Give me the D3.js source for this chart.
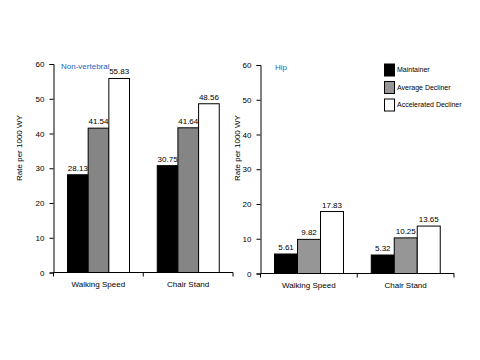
<!DOCTYPE html>
<html><head><meta charset="utf-8">
<script src="https://cdn.jsdelivr.net/npm/d3@7/dist/d3.min.js"></script>
<style>body{margin:0;background:#fff}svg{display:block}text{font-family:"Liberation Sans",Arial,sans-serif}</style>
</head><body>
<script>
const categories = ["Walking Speed", "Chair Stand"];
const series = ["Maintainer", "Average Decliner", "Accelerated Decliner"];
const nonVertebral = [[28.13, 41.54, 55.83], [30.75, 41.64, 48.56]];
const hip = [[5.61, 9.82, 17.83], [5.32, 10.25, 13.65]];
const nonVertebralLabels = [["28.13", "41.54", "55.83"], ["30.75", "41.64", "48.56"]];
const hipLabels = [["5.61", "9.82", "17.83"], ["5.32", "10.25", "13.65"]];
const yTicks = [0, 10, 20, 30, 40, 50, 60];
const fills = ["#000000", "#878787", "#ffffff"];

const svg = d3.select("body").append("svg").attr("width", 480).attr("height", 360);

function panel(cfg) {
  const y = d3.scaleLinear().domain([0, 60]).range([cfg.y0, cfg.y60]);
  const x0 = d3.scaleBand().domain(categories).range([cfg.xl, cfg.xr]).padding(0);
  const x1 = d3.scaleBand().domain(series).range([cfg.inL, cfg.inR]).padding(0);
  const g = svg.append("g");
  // y axis
  const ya = g.append("g").attr("transform", `translate(${cfg.xl},0)`)
    .call(d3.axisLeft(y).tickValues(yTicks).tickSize(4).tickPadding(5));
  ya.select(".domain").attr("stroke", "#000");
  ya.selectAll("text").attr("font-size", 8).attr("fill", "#000");
  // bars
  categories.forEach((c, i) => {
    series.forEach((s, j) => {
      const v = cfg.data[i][j];
      const bx = x0(c) + x1(s);
      g.append("rect").attr("x", bx).attr("y", y(v))
        .attr("width", x1.bandwidth()).attr("height", y(0) - y(v))
        .attr("fill", j === 1 ? cfg.gray : fills[j]).attr("stroke", "#000").attr("stroke-width", 1);
      g.append("text").attr("x", bx + x1.bandwidth() / 2).attr("y", y(v) - 4)
        .attr("text-anchor", "middle").attr("font-size", 8).attr("fill", "#000")
        .text(cfg.labels[i][j]);
    });
  });
  // x axis
  g.append("line").attr("x1", cfg.xl).attr("x2", cfg.xr).attr("y1", y(0)).attr("y2", y(0)).attr("stroke", "#000");
  [cfg.xl, cfg.xl + x0.bandwidth(), cfg.xr].forEach(t => {
    g.append("line").attr("x1", t).attr("x2", t).attr("y1", y(0)).attr("y2", y(0) + 4).attr("stroke", "#000");
  });
  categories.forEach(c => {
    g.append("text").attr("x", x0(c) + x0.bandwidth() / 2).attr("y", y(0) + 14)
      .attr("text-anchor", "middle").attr("font-size", 8).attr("fill", "#000").text(c);
  });
  // y label
  g.append("text").attr("transform", `translate(${cfg.ylx},${cfg.yly}) rotate(-90)`)
    .attr("text-anchor", "middle").attr("font-size", 8).attr("fill", "#000").text("Rate per 1000 WY");
  // title
  g.append("text").attr("x", cfg.tx).attr("y", y(60) + 5).attr("font-size", 8)
    .attr("fill", "#1f5fbf").text(cfg.title);
}

panel({xl: 53.5, xr: 233, inL: 14, inR: 76, y0: 272.5, y60: 64, data: nonVertebral, labels: nonVertebralLabels,
  gray: "#858585", ylx: 22, yly: 148, tx: 61, title: "Non-vertebral"});
panel({xl: 260.5, xr: 454, inL: 14, inR: 83, y0: 273.5, y60: 65, data: hip, labels: hipLabels,
  gray: "#969696", ylx: 240, yly: 148, tx: 275, title: "Hip"});

// legend
const lg = svg.append("g");
series.forEach((s, j) => {
  const ly = 64 + j * 17.5;
  lg.append("rect").attr("x", 384.5).attr("y", ly).attr("width", 10).attr("height", 12)
    .attr("fill", j === 1 ? "#969696" : fills[j]).attr("stroke", "#000").attr("stroke-width", 1);
  lg.append("text").attr("x", 397).attr("y", ly + 8).attr("font-size", 7).attr("fill", "#000").text(s);
});
</script>
</body></html>
